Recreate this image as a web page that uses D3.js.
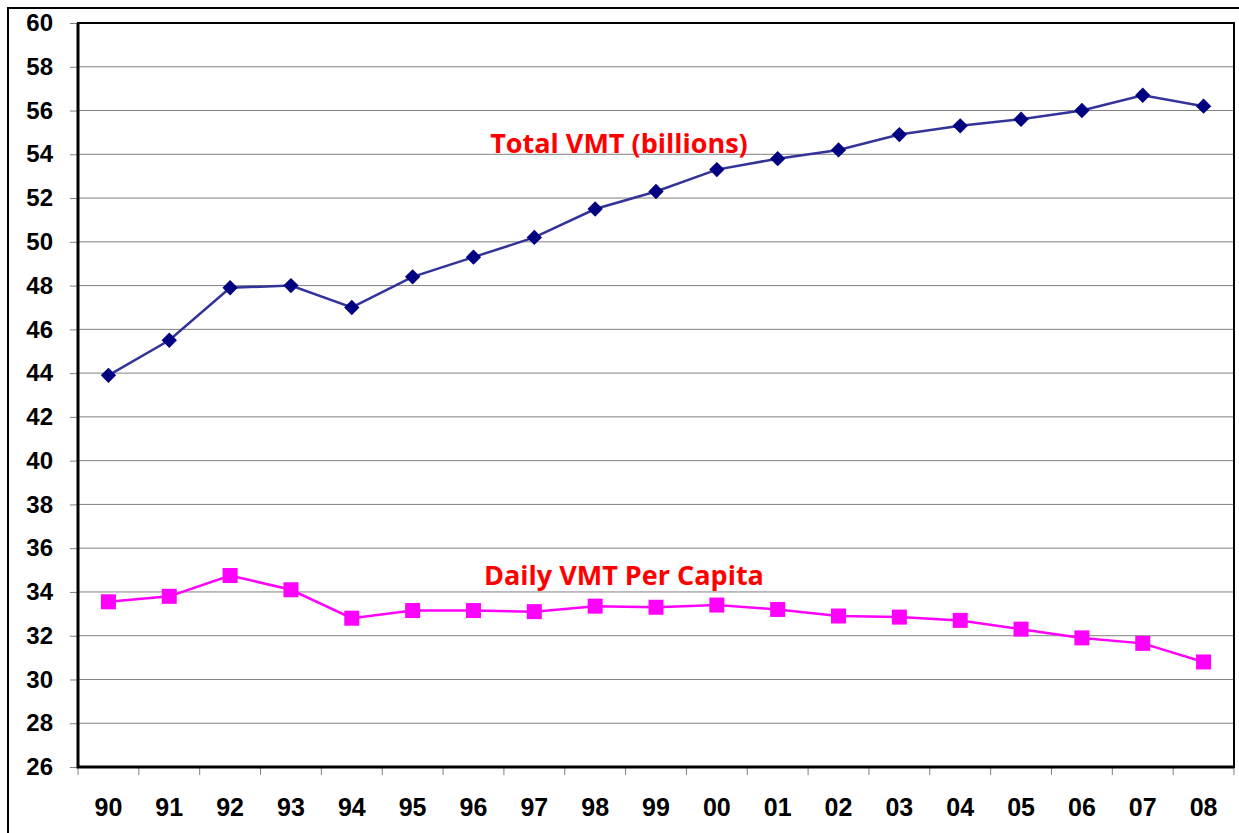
<!DOCTYPE html>
<html>
<head>
<meta charset="UTF-8">
<script src="https://d3js.org/d3.v7.min.js"></script>
<style>
  body { margin: 0; background: #fff; }
  .tick-label { font-family: "Liberation Sans", Arial, sans-serif; font-weight: bold; fill: #000; }
  .series-label { font-family: "Open Sans", "Lato", sans-serif; font-weight: bold; fill: #ff0000; }
</style>
</head>
<body>
<svg id="chart" width="1239" height="833"></svg>
<script>
// data
const years = ["90","91","92","93","94","95","96","97","98","99","00","01","02","03","04","05","06","07","08"];
const totalVMT = [43.9, 45.5, 47.9, 48.0, 47.0, 48.4, 49.3, 50.2, 51.5, 52.3, 53.3, 53.8, 54.2, 54.9, 55.3, 55.6, 56.0, 56.7, 56.2];
const perCapita = [33.55, 33.8, 34.75, 34.1, 32.8, 33.15, 33.15, 33.1, 33.35, 33.3, 33.4, 33.2, 32.9, 32.85, 32.7, 32.3, 31.9, 31.65, 30.8];
const yTicks = d3.range(26, 61, 2);

const svg = d3.select("#chart");
const margin = { top: 23, right: 5, bottom: 66, left: 78 };
const width = 1239 - margin.left - margin.right;
const height = 833 - margin.top - margin.bottom;

// outer frame
svg.append("path")
    .attr("d", "M8,840 L8,8 L1245,8")
    .attr("fill", "none")
    .attr("stroke", "#000")
    .attr("stroke-width", 2);

const g = svg.append("g").attr("transform", `translate(${margin.left},${margin.top})`);

const x = d3.scaleBand().domain(years).range([0, width]);
const y = d3.scaleLinear().domain([26, 60]).range([height, 0]);

// gridlines
g.append("g")
    .selectAll("line")
    .data(yTicks.slice(1, -1))
    .join("line")
    .attr("x1", 0).attr("x2", width)
    .attr("y1", d => y(d)).attr("y2", d => y(d))
    .attr("stroke", "#808080")
    .attr("stroke-width", 1);

// y axis
const yAxis = g.append("g")
    .call(d3.axisLeft(y).tickValues(yTicks).tickSize(8).tickPadding(17));
yAxis.select(".domain").remove();
yAxis.selectAll("line").attr("stroke", "#808080");
yAxis.selectAll("text").attr("class", "tick-label").style("font-size", "24px");

// x axis: ticks on band edges
const edges = years.map(d => x(d)).concat([width]);
g.append("g")
    .selectAll("line")
    .data(edges)
    .join("line")
    .attr("x1", d => d).attr("x2", d => d)
    .attr("y1", height).attr("y2", height + 8)
    .attr("stroke", "#808080");

g.append("g")
    .selectAll("text")
    .data(years)
    .join("text")
    .attr("class", "tick-label")
    .attr("x", d => x(d) + x.bandwidth() / 2)
    .attr("y", height + 49)
    .attr("text-anchor", "middle")
    .style("font-size", "25px")
    .text(d => d);

// plot border
g.append("rect")
    .attr("width", width).attr("height", height)
    .attr("fill", "none")
    .attr("stroke", "#000")
    .attr("stroke-width", 2);
g.append("path")
    .attr("d", `M0,0 L0,${height} L${width},${height}`)
    .attr("fill", "none")
    .attr("stroke", "#000")
    .attr("stroke-width", 3);

const cx = (d, i) => x(years[i]) + x.bandwidth() / 2;

const line = d3.line().x(cx).y(d => y(d));

// Total VMT
g.append("path")
    .datum(totalVMT)
    .attr("d", line)
    .attr("fill", "none")
    .attr("stroke", "#333399")
    .attr("stroke-width", 2.5);
g.selectAll(".diamond")
    .data(totalVMT)
    .join("path")
    .attr("class", "diamond")
    .attr("d", d3.symbol(d3.symbolDiamond2, 150))
    .attr("transform", (d, i) => `translate(${cx(d, i)},${y(d)})`)
    .attr("fill", "#000080");

// Daily VMT per capita
g.append("path")
    .datum(perCapita)
    .attr("d", line)
    .attr("fill", "none")
    .attr("stroke", "#ff00ff")
    .attr("stroke-width", 2.5);
g.selectAll(".square")
    .data(perCapita)
    .join("rect")
    .attr("class", "square")
    .attr("x", (d, i) => cx(d, i) - 7.5)
    .attr("y", d => y(d) - 7.5)
    .attr("width", 15).attr("height", 15)
    .attr("fill", "#ff00ff");

// series labels
g.append("text")
    .attr("class", "series-label")
    .attr("x", 619 - margin.left)
    .attr("y", 153 - margin.top)
    .attr("text-anchor", "middle")
    .style("font-size", "27px")
    .text("Total VMT (billions)");
g.append("text")
    .attr("class", "series-label")
    .attr("x", 624 - margin.left)
    .attr("y", 585 - margin.top)
    .attr("text-anchor", "middle")
    .style("font-size", "27px")
    .text("Daily VMT Per Capita");
</script>
</body>
</html>
